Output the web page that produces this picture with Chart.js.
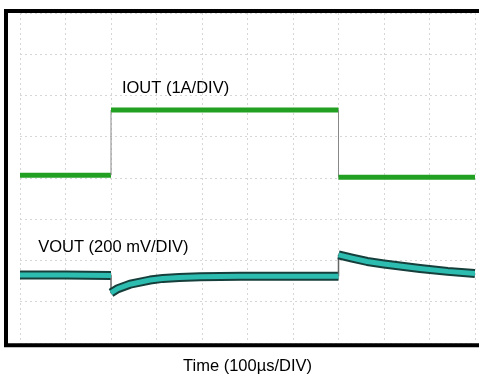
<!DOCTYPE html>
<html>
<head>
<meta charset="utf-8">
<script src="https://cdn.jsdelivr.net/npm/chart.js@4/dist/chart.umd.min.js"></script>
<style>
  html, body { margin: 0; padding: 0; background: #fff; overflow: hidden; }
  #wrap { width: 479px; height: 383px; position: relative; }
</style>
</head>
<body>
<div id="wrap"><canvas id="c" width="479" height="383"></canvas></div>
<script>
// Time axis in µs (100 µs per division, 10 divisions)
const timeTicks = [0, 100, 200, 300, 400, 500, 600, 700, 800, 900, 1000];
// Vertical position in screen divisions (0 = bottom, 8 = top)
const ioutTime = [0, 200, 200, 700, 700, 1000];
const ioutDiv  = [4.07, 4.07, 5.65, 5.65, 4.02, 4.02];

const voutTime = [0, 100, 200, 200, 215, 242, 286, 314, 350, 396, 484, 600, 700, 700, 730, 763, 800, 835, 879, 940, 1000];
const voutDiv  = [1.65, 1.65, 1.64, 1.22, 1.32, 1.43, 1.53, 1.57, 1.59, 1.61, 1.62, 1.62, 1.62, 2.14, 2.06, 1.98, 1.92, 1.87, 1.81, 1.74, 1.69];

const labelIout = 'IOUT (1A/DIV)';
const labelVout = 'VOUT (200 mV/DIV)';
const axisTitle = 'Time (100µs/DIV)';

const toPts = (xs, ys) => xs.map((x, i) => ({x: x, y: ys[i]}));
const isVertical = ctx => ctx.p0.parsed.x === ctx.p1.parsed.x;

const frame = {
  id: 'frame',
  afterDraw(chart) {
    const {ctx, chartArea: a, scales: {x, y}, width} = chart;
    ctx.save();
    ctx.strokeStyle = '#000';
    ctx.lineWidth = 4;
    ctx.lineCap = 'square';
    ctx.beginPath();
    ctx.moveTo(width + 4, a.top - 2);
    ctx.lineTo(a.left - 14, a.top - 2);
    ctx.lineTo(a.left - 14, a.bottom + 2);
    ctx.lineTo(width + 4, a.bottom + 2);
    ctx.stroke();
    ctx.fillStyle = '#000';
    ctx.font = '16.5px "Liberation Sans", Arial, sans-serif';
    ctx.textBaseline = 'middle';
    ctx.textAlign = 'left';
    ctx.fillText(labelIout, x.getPixelForValue(224), y.getPixelForValue(6.18));
    ctx.fillText(labelVout, x.getPixelForValue(40), y.getPixelForValue(2.33));
    ctx.restore();
  }
};

new Chart(document.getElementById('c'), {
  type: 'line',
  data: {
    datasets: [
      {
        data: toPts(voutTime, voutDiv),
        borderColor: '#163f3c',
        borderWidth: 9,
        pointRadius: 0,
        tension: 0,
        borderJoinStyle: 'round',
        segment: {
          borderWidth: ctx => isVertical(ctx) ? 1.5 : undefined,
          borderColor: ctx => isVertical(ctx) ? '#666' : undefined
        },
        order: 3
      },
      {
        data: toPts(voutTime, voutDiv),
        borderColor: '#2dbcb0',
        borderWidth: 5,
        pointRadius: 0,
        tension: 0,
        borderJoinStyle: 'round',
        segment: {
          borderColor: ctx => isVertical(ctx) ? 'rgba(0,0,0,0)' : undefined
        },
        order: 2
      },
      {
        data: toPts(ioutTime, ioutDiv),
        borderColor: '#22a022',
        borderWidth: 5,
        pointRadius: 0,
        tension: 0,
        segment: {
          borderWidth: ctx => isVertical(ctx) ? 1 : undefined,
          borderColor: ctx => isVertical(ctx) ? '#888' : undefined
        },
        order: 1
      }
    ]
  },
  options: {
    responsive: false,
    animation: false,
    layout: { padding: { left: 20, right: 4, top: 13, bottom: 7 } },
    plugins: { legend: { display: false }, tooltip: { enabled: false } },
    scales: {
      x: {
        type: 'linear',
        min: 0, max: 1000,
        afterBuildTicks: s => { s.ticks = timeTicks.map(v => ({value: v})); },
        ticks: { display: false },
        grid: { color: '#d6d6d6', drawTicks: false, lineWidth: 1 },
        border: { display: false, dash: [2, 3] },
        title: {
          display: true,
          text: axisTitle,
          color: '#000',
          font: { family: '"Liberation Sans", Arial, sans-serif', size: 16.5 },
          padding: { top: 13, bottom: 0 }
        }
      },
      y: {
        min: 0, max: 8,
        ticks: { display: false, stepSize: 1 },
        grid: { color: '#d6d6d6', drawTicks: false, lineWidth: 1 },
        border: { display: false, dash: [2, 3] }
      }
    }
  },
  plugins: [frame]
});
</script>
</body>
</html>
